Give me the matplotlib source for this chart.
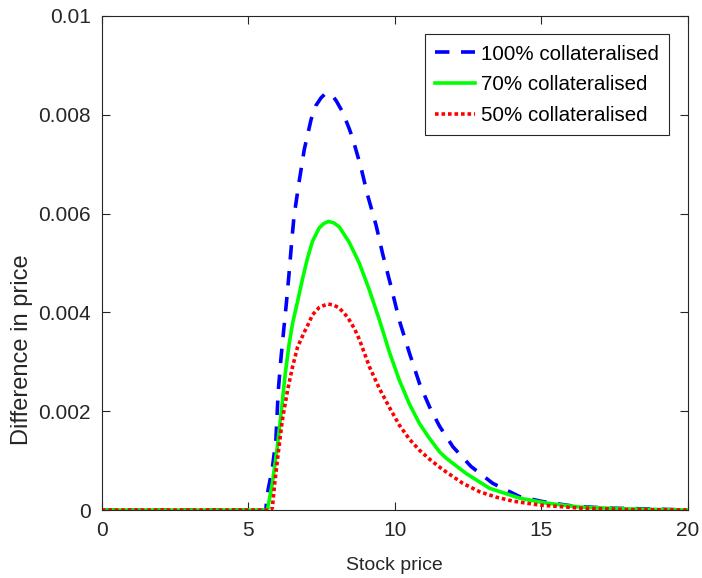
import numpy as np
import matplotlib.pyplot as plt

plt.rcParams['font.family'] = ['Liberation Sans', 'DejaVu Sans']

# values
x_100 = [0, 5.60, 5.63, 5.82, 5.94, 6.02, 6.11, 6.20, 6.30, 6.39, 6.49, 6.56, 6.74, 6.91,
         7.14, 7.30, 7.48, 7.60, 7.70, 7.85, 8.00, 8.22, 8.44, 8.56, 8.84, 9.07, 9.36,
         9.58, 9.87, 10.15, 10.50, 10.84, 11.18, 11.52, 11.98, 12.60, 13.34, 14.26,
         15.05, 16.08, 17.2, 18.8, 20]
y_100 = [0, 0, 0.00027, 0.00085, 0.00142, 0.00240, 0.00305, 0.00360, 0.00420, 0.00479,
         0.00550, 0.00595, 0.00667, 0.00730, 0.00790, 0.00818, 0.00834, 0.00841, 0.00843,
         0.00840, 0.00828, 0.00805, 0.00772, 0.00752, 0.00694, 0.00637, 0.00576, 0.00519,
         0.00452, 0.00384, 0.00317, 0.00256, 0.00209, 0.00170, 0.00128, 0.00088, 0.00054,
         0.00027, 0.00017, 0.00008, 0.00004, 0.00002, 0]

x_70 = [0, 5.65, 5.82, 5.99, 6.13, 6.26, 6.39, 6.51, 6.68, 6.85, 7.02, 7.19, 7.42, 7.58,
        7.74, 7.92, 8.10, 8.44, 8.79, 9.13, 9.47, 9.81, 10.15, 10.50, 10.84, 11.18,
        11.52, 11.75, 12.43, 13.23, 14.26, 15.17, 16.3, 18.0, 20]
y_70 = [0, 0, 0.00054, 0.00128, 0.00202, 0.00276, 0.00335, 0.00378, 0.00422, 0.00468,
        0.00510, 0.00544, 0.00571, 0.00580, 0.00584, 0.00581, 0.00573, 0.00542, 0.00499,
        0.00445, 0.00385, 0.00320, 0.00263, 0.00214, 0.00175, 0.00145, 0.00118, 0.00105,
        0.00074, 0.00044, 0.00024, 0.00014, 0.00006, 0.00002, 0]

x_50 = [0, 5.77, 5.82, 5.90, 6.02, 6.16, 6.34, 6.51, 6.68, 6.91, 7.02, 7.19, 7.42, 7.70,
        7.90, 8.10, 8.39, 8.62, 8.79, 9.13, 9.47, 9.81, 10.15, 10.50, 10.84, 11.18, 11.52,
        11.75, 12.32, 12.89, 13.46, 14.03, 14.94, 16.3, 18.0, 20]
y_50 = [0, 0, 0.00005, 0.00054, 0.00115, 0.00182, 0.00243, 0.00290, 0.00330, 0.00360,
        0.00373, 0.00395, 0.00410, 0.00417, 0.00415, 0.00409, 0.00390, 0.00367, 0.00345,
        0.00290, 0.00246, 0.00208, 0.00172, 0.00143, 0.00121, 0.00103, 0.00087, 0.00077,
        0.00054, 0.00037, 0.00026, 0.00018, 0.00010, 0.00004, 0.00001, 0]

labels = ['100% collateralised', '70% collateralised', '50% collateralised']

fig = plt.figure(figsize=(7.02, 5.78), dpi=100)
ax = fig.add_axes([0.145, 0.1176, 0.835, 0.855])

ax.plot(x_100, y_100, color='blue', linestyle=(0, (4, 3.2)), linewidth=2.6, label=labels[0])
ax.plot(x_70, y_70, color='#00ff00', linestyle='-', linewidth=2.6, label=labels[1])
ax.plot(x_50, y_50, color='red', linestyle=(0, (1, 0.8)), linewidth=2.6, label=labels[2])

ax.set_xlim(0, 20)
ax.set_ylim(0, 0.01)
ax.set_xticks([0, 5, 10, 15, 20])
ax.set_yticks([0, 0.002, 0.004, 0.006, 0.008, 0.01])
ax.set_yticklabels(['0', '0.002', '0.004', '0.006', '0.008', '0.01'])
ax.set_xlabel('Stock price', fontsize=14, color='#262626', labelpad=12)
ax.set_ylabel('Difference in price', fontsize=17, color='#262626')
ax.yaxis.set_label_coords(-0.118, 0.325)

ax.tick_params(direction='in', top=True, right=True, labelsize=15,
               colors='#262626', length=6, width=0.8)
ax.tick_params(axis='x', pad=8)
ax.tick_params(axis='y', pad=8)
for s in ax.spines.values():
    s.set_color('#262626')
    s.set_linewidth(0.8)

leg = ax.legend(loc='upper right', fontsize=14.8, handlelength=1.95, fancybox=False,
                framealpha=1, edgecolor='#262626', borderaxespad=0.9,
                labelspacing=0.57, handletextpad=0.3, borderpad=0.5)
leg.get_frame().set_linewidth(0.8)

fig.savefig('out.png', dpi=100)
